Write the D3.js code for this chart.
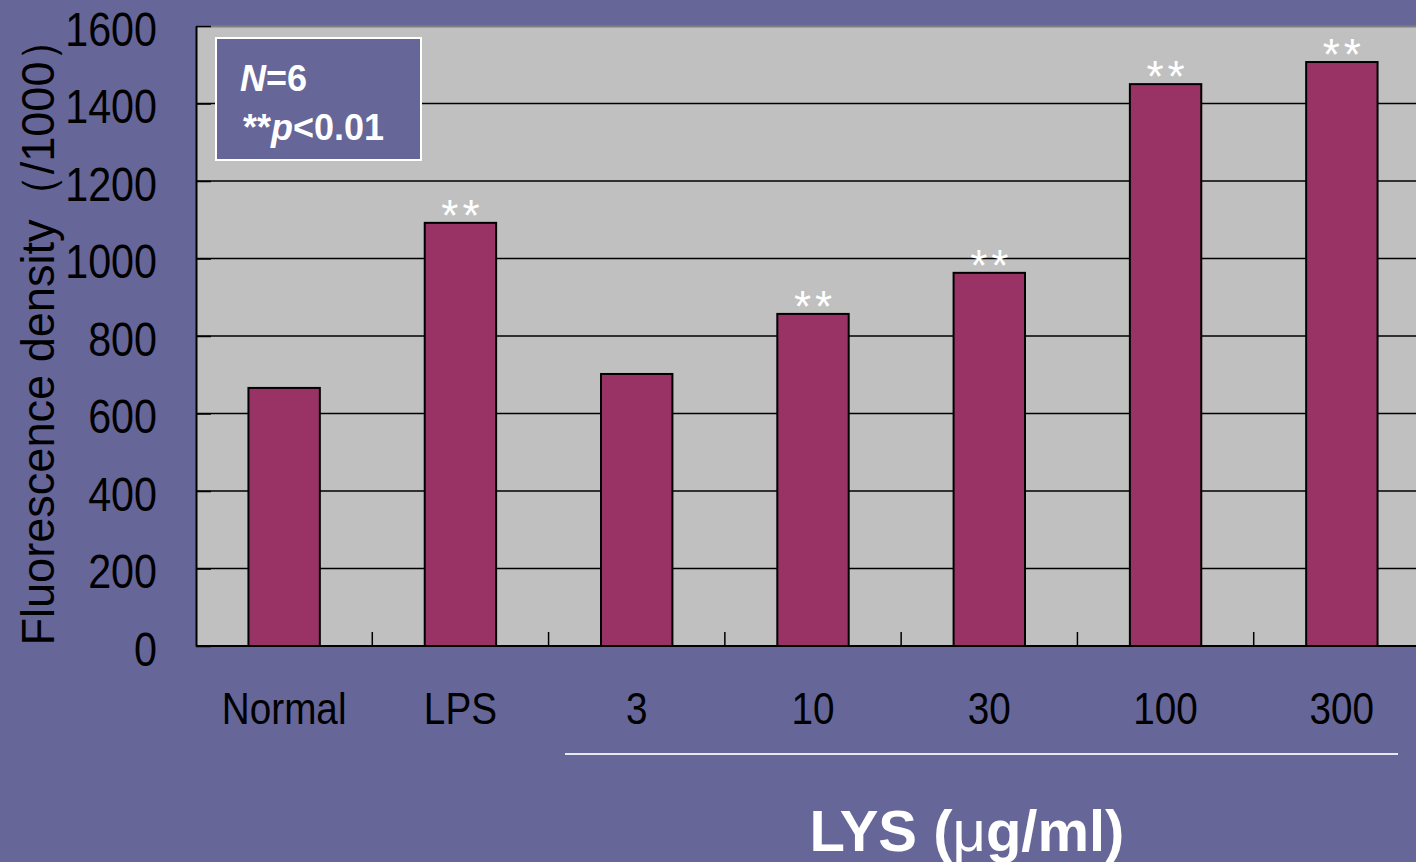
<!DOCTYPE html>
<html>
<head>
<meta charset="utf-8">
<script src="https://cdn.jsdelivr.net/npm/d3@7"></script>
<style>
  body { margin: 0; background: #666699; overflow: hidden; }
  text { font-family: "Liberation Sans", Arial, sans-serif; }
</style>
</head>
<body>
<div id="canvas"></div>
<script>
// data
const groups = ['Normal', 'LPS', '3', '10', '30', '100', '300'];
const values = [666, 1092, 702, 857, 963, 1450, 1507];
const marks = ['', '**', '', '**', '**', '**', '**'];
const yTicks = [0, 200, 400, 600, 800, 1000, 1200, 1400, 1600];

const W = 1416, H = 862;
const plotL = 196, plotT = 26, plotB = 646, plotR = 1430;
const squeeze = 0.86; // axis text is a bit narrow in the original

const svg = d3.select('#canvas').append('svg')
  .attr('width', W)
  .attr('height', H);

svg.append('rect').attr('width', W).attr('height', H).attr('fill', '#666699');

const x = d3.scaleBand()
  .domain(groups)
  .range([plotL, plotR])
  .paddingInner(0.595)
  .paddingOuter(0.2975);

const y = d3.scaleLinear()
  .domain([0, 1600])
  .range([plotB, plotT]);

// plot area
svg.append('rect')
  .attr('x', plotL).attr('y', plotT)
  .attr('width', plotR - plotL).attr('height', plotB - plotT)
  .attr('fill', '#c0c0c0');

svg.append('line')
  .attr('x1', plotL).attr('x2', plotR)
  .attr('y1', plotT + 0.5).attr('y2', plotT + 0.5)
  .attr('stroke', '#808080').attr('stroke-width', 2);

// grid lines
svg.selectAll('.grid')
  .data(yTicks.filter(d => d > 0 && d < 1600))
  .enter().append('line')
  .attr('class', 'grid')
  .attr('x1', plotL).attr('x2', plotR)
  .attr('y1', d => y(d)).attr('y2', d => y(d))
  .attr('stroke', '#000').attr('stroke-width', 1.3);

// y axis
const yAxis = svg.append('g')
  .attr('transform', `translate(${plotL},0)`)
  .call(d3.axisLeft(y).tickValues(yTicks).tickFormat(d3.format('d'))
    .tickSizeInner(-15).tickSizeOuter(0));
yAxis.select('.domain').attr('stroke', '#000').attr('stroke-width', 2);
yAxis.selectAll('.tick line').attr('stroke', '#000').attr('stroke-width', 1.5);
yAxis.selectAll('.tick text')
  .attr('font-size', 48).attr('fill', '#000')
  .attr('font-family', '"Liberation Sans", Arial, sans-serif')
  .attr('x', -39 / squeeze)
  .attr('dy', 19)
  .attr('transform', `scale(${squeeze},1)`);

// bars
svg.selectAll('.bar')
  .data(values)
  .enter().append('rect')
  .attr('class', 'bar')
  .attr('x', (d, i) => x(groups[i]))
  .attr('y', d => y(d))
  .attr('width', x.bandwidth())
  .attr('height', d => plotB - y(d))
  .attr('fill', '#993366')
  .attr('stroke', '#000')
  .attr('stroke-width', 2);

// x axis
const xAxis = svg.append('g')
  .attr('transform', `translate(0,${plotB})`)
  .call(d3.axisBottom(x).tickSize(0));
xAxis.select('.domain').remove();
xAxis.selectAll('.tick text')
  .attr('font-size', 45).attr('fill', '#000')
  .attr('font-family', '"Liberation Sans", Arial, sans-serif')
  .attr('y', 78).attr('dy', 0)
  .attr('transform', `scale(${squeeze},1)`);

svg.append('line')
  .attr('x1', plotL).attr('x2', plotR)
  .attr('y1', plotB).attr('y2', plotB)
  .attr('stroke', '#000').attr('stroke-width', 2);

// category separator ticks (inside)
const gap = (x.step() - x.bandwidth()) / 2;
svg.selectAll('.sep')
  .data(groups.slice(1))
  .enter().append('line')
  .attr('class', 'sep')
  .attr('x1', d => x(d) - gap)
  .attr('x2', d => x(d) - gap)
  .attr('y1', plotB).attr('y2', plotB - 14)
  .attr('stroke', '#000').attr('stroke-width', 1.5);

// significance marks
svg.selectAll('.mark')
  .data(values)
  .enter().append('text')
  .attr('class', 'mark')
  .attr('x', (d, i) => x(groups[i]) + x.bandwidth() / 2 + 2)
  .attr('y', d => y(d) + 8)
  .attr('text-anchor', 'middle')
  .attr('font-size', 44)
  .attr('letter-spacing', 4)
  .attr('fill', '#fff')
  .text((d, i) => marks[i]);

// y title
svg.append('text')
  .attr('transform', 'translate(54,331) rotate(-90) scale(0.96,1)')
  .attr('text-anchor', 'middle')
  .attr('font-size', 47)
  .attr('fill', '#000')
  .text('Fluorescence density（/1000）');

// legend box
svg.append('rect')
  .attr('x', 216).attr('y', 38)
  .attr('width', 205).attr('height', 122)
  .attr('fill', '#666699')
  .attr('stroke', '#fff').attr('stroke-width', 2);

const t1 = svg.append('text')
  .attr('x', 240).attr('y', 91)
  .attr('font-size', 36).attr('font-weight', 'bold').attr('fill', '#fff');
t1.append('tspan').attr('font-style', 'italic').text('N');
t1.append('tspan').text('=6');

const t2 = svg.append('text')
  .attr('x', 243).attr('y', 140)
  .attr('font-size', 36).attr('font-weight', 'bold').attr('fill', '#fff');
t2.append('tspan').text('**');
t2.append('tspan').attr('font-style', 'italic').text('p');
t2.append('tspan').text('<0.01');

// LYS bracket and title
svg.append('line')
  .attr('x1', 565).attr('x2', 1398)
  .attr('y1', 754).attr('y2', 754)
  .attr('stroke', '#e8e8f0').attr('stroke-width', 2);

const t3 = svg.append('text')
  .attr('x', 967).attr('y', 851)
  .attr('text-anchor', 'middle')
  .attr('font-size', 58).attr('font-weight', 'bold').attr('fill', '#fff');
t3.append('tspan').text('LYS (');
t3.append('tspan').attr('font-weight', 'normal').text('μ');
t3.append('tspan').text('g/ml)');
</script>
</body>
</html>
